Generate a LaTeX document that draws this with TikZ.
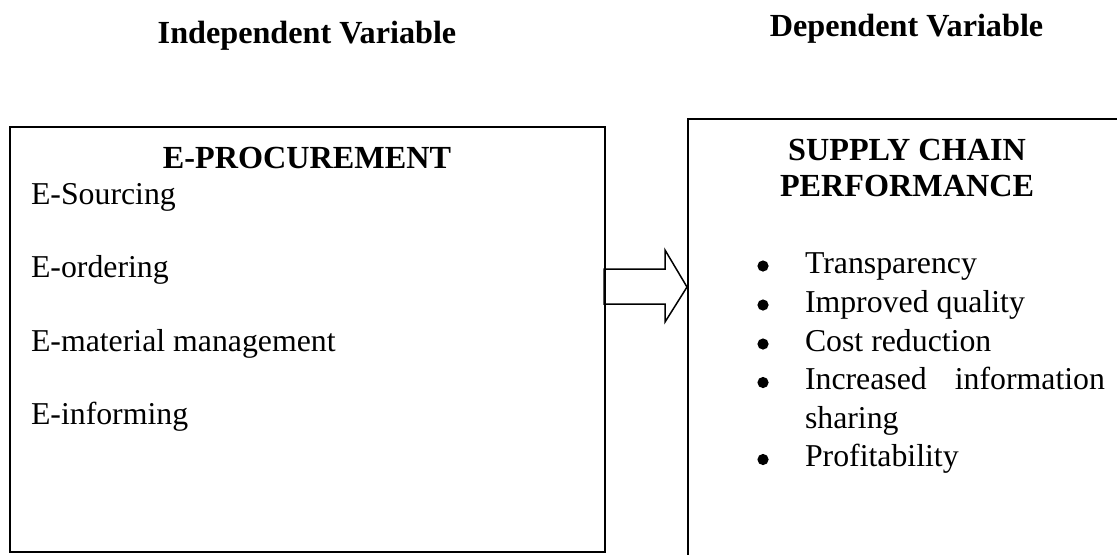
\documentclass[tikz,border=0pt]{standalone}
\usepackage{fontspec}
\setmainfont{Liberation Serif}
\usetikzlibrary{calc}
\begin{document}
\begin{tikzpicture}[x=0.5pt,y=-0.5pt,
  txt/.style={inner sep=0pt,outer sep=0pt,font=\fontsize{15.9}{19}\selectfont},
  hd/.style={txt,font=\fontsize{16.1}{19}\selectfont\bfseries,anchor=base},
  item/.style={txt,anchor=base west},
  dot/.style={circle,fill=black,inner sep=0pt,minimum size=5.6pt},
  frame/.style={draw=black,line width=0.75pt}]
\useasboundingbox (0,0) rectangle (1117,554);
% headers
\node[hd] (indep) at (307,43) {Independent Variable};
\node[hd] (dep) at (906.5,36) {Dependent Variable};
% left box
\draw[frame] (10,127) rectangle (605,552);
\node[hd] (eproc) at (307,168) {E-PROCUREMENT};
\node[item] (s1) at (31,204) {E-Sourcing};
\node[item] (s2) at (31,277) {E-ordering};
\node[item] (s3) at (31,351) {E-material management};
\node[item] (s4) at (31,424.5) {E-informing};
% right box (open to the right and bottom)
\begin{scope}
\clip (0,0) rectangle (1117,554);
\draw[frame] (1140,119) -- (688,119) -- (688,570);
\end{scope}
\node[hd] (scp1) at (907,160) {SUPPLY CHAIN};
\node[hd] (scp2) at (907,196) {PERFORMANCE};
\node[item] (p1) at (805,273) {Transparency};
\node[item] (p2) at (805,312) {Improved quality};
\node[item] (p3) at (805,351) {Cost reduction};
\node[item] (p4) at (805,389.5) {Increased};
\node[txt,anchor=base east] (p4b) at (1105,389.5) {information};
\node[item] (p4c) at (805,428) {sharing};
\node[item] (p5) at (805,466.5) {Profitability};
\foreach \y/\n in {273/b1,312/b2,351/b3,389.5/b4,466.5/b5}
  \node[dot] (\n) at (763,\y-7) {};
% block arrow
\draw[line width=0.75pt,line join=miter] (604,269) -- (665,269) -- (665,250) -- (687,287)
  -- (665,322) -- (665,304) -- (604,304) -- cycle;
\end{tikzpicture}
\end{document}
